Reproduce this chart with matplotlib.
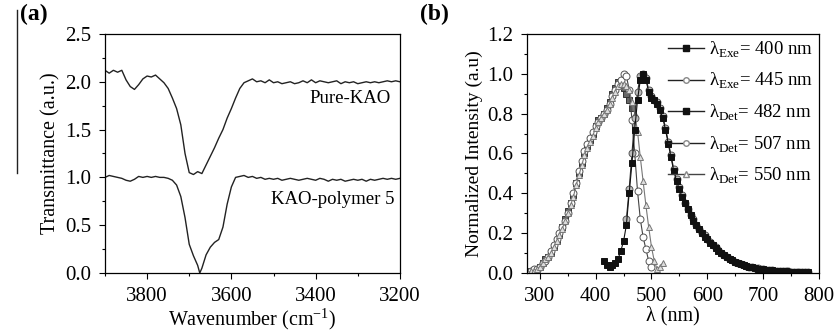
import numpy as np
import matplotlib
matplotlib.use("Agg")
import matplotlib.pyplot as plt
from matplotlib.ticker import MultipleLocator, FormatStrFormatter

plt.rcParams["font.family"] = ["Liberation Serif", "DejaVu Serif"]
plt.rcParams["mathtext.fontset"] = "custom"
plt.rcParams["mathtext.rm"] = "Liberation Serif"

# (a) FTIR spectra
wnPure = [3900, 3890, 3880, 3870, 3860, 3850, 3840, 3830, 3820, 3810,
          3800, 3790, 3780, 3770, 3760, 3750, 3740, 3730, 3720, 3710,
          3700, 3690, 3680, 3670, 3660, 3650, 3640, 3630, 3620, 3610,
          3600, 3590, 3580, 3570, 3560, 3550, 3540, 3530, 3520, 3510,
          3500, 3490, 3480, 3470, 3460, 3450, 3440, 3430, 3420, 3410,
          3400, 3390, 3380, 3370, 3360, 3350, 3340, 3330, 3320, 3310,
          3300, 3290, 3280, 3270, 3260, 3250, 3240, 3230, 3220, 3210, 3200]
tPure = [2.12, 2.09, 2.12, 2.10, 2.12, 2.02, 1.95, 1.92, 1.97, 2.03,
         2.06, 2.05, 2.07, 2.03, 1.99, 1.93, 1.83, 1.72, 1.55, 1.25,
         1.05, 1.03, 1.06, 1.04, 1.13, 1.22, 1.31, 1.41, 1.50, 1.62,
         1.72, 1.83, 1.93, 1.99, 2.01, 2.03, 2.00, 2.01, 1.99, 2.02,
         1.99, 2.00, 1.98, 1.99, 2.00, 1.98, 1.99, 2.01, 1.99, 2.02,
         1.99, 2.01, 2.00, 1.99, 2.00, 2.01, 1.98, 2.00, 1.99, 2.00,
         1.98, 1.99, 2.00, 1.99, 2.00, 1.99, 2.00, 2.01, 2.00, 2.01, 2.00]

wnPoly = [3900, 3890, 3880, 3870, 3860, 3850, 3840, 3830, 3820, 3810,
          3800, 3790, 3780, 3770, 3760, 3750, 3740, 3730, 3720, 3710,
          3700, 3690, 3680, 3675, 3670, 3660, 3650, 3640, 3630, 3620,
          3610, 3600, 3590, 3580, 3570, 3560, 3550, 3540, 3530, 3520,
          3510, 3500, 3490, 3480, 3470, 3460, 3450, 3440, 3430, 3420,
          3410, 3400, 3390, 3380, 3370, 3360, 3350, 3340, 3330, 3320,
          3310, 3300, 3290, 3280, 3270, 3260, 3250, 3240, 3230, 3220,
          3210, 3200]
tPoly = [1.00, 1.02, 1.01, 1.00, 0.99, 0.97, 0.96, 0.98, 1.01, 1.00,
         1.01, 1.00, 1.01, 1.00, 1.00, 0.99, 0.97, 0.92, 0.80, 0.58,
         0.30, 0.18, 0.08, 0.00, 0.05, 0.19, 0.27, 0.32, 0.35, 0.48,
         0.72, 0.90, 1.00, 1.01, 1.02, 1.00, 1.01, 0.99, 1.00, 0.98,
         0.99, 0.98, 0.99, 0.97, 0.98, 0.99, 0.98, 0.97, 0.98, 0.99,
         0.98, 0.97, 0.99, 0.98, 0.96, 0.98, 0.97, 0.98, 0.96, 0.97,
         0.98, 0.97, 0.98, 0.96, 0.98, 0.97, 0.98, 0.99, 0.98, 0.99,
         0.98, 0.99]

# (b) photoluminescence
wlExc = [278, 285, 290, 295, 300, 305, 310, 315, 320, 325, 330, 335, 340,
         345, 350, 355, 360, 365, 370, 375, 380, 385, 390, 395, 400, 405,
         410, 415, 420, 425, 430, 435, 440, 445, 450, 455, 460, 465]
det482 = [0.00, 0.01, 0.01, 0.02, 0.03, 0.05, 0.07, 0.08, 0.10, 0.13, 0.16,
          0.19, 0.23, 0.27, 0.31, 0.35, 0.39, 0.45, 0.50, 0.55, 0.60, 0.64,
          0.67, 0.70, 0.74, 0.77, 0.78, 0.80, 0.83, 0.86, 0.90, 0.93, 0.96,
          0.95, 0.93, 0.90, 0.87, 0.83]

wl507 = [278, 285, 290, 295, 300, 305, 310, 315, 320, 325, 330, 335, 340,
         345, 350, 355, 360, 365, 370, 375, 380, 385, 390, 395, 400, 405,
         410, 415, 420, 425, 430, 435, 440, 445, 450, 455, 460, 465, 470,
         475, 480, 485, 490, 495, 500]
det507 = [0.00, 0.01, 0.02, 0.02, 0.03, 0.05, 0.06, 0.08, 0.11, 0.14, 0.17,
          0.20, 0.23, 0.26, 0.30, 0.35, 0.40, 0.45, 0.51, 0.56, 0.61, 0.65,
          0.68, 0.71, 0.74, 0.76, 0.78, 0.80, 0.82, 0.85, 0.89, 0.92, 0.95,
          0.97, 1.00, 0.99, 0.92, 0.77, 0.60, 0.41, 0.27, 0.18, 0.12, 0.06,
          0.03]

wl550 = [278, 285, 290, 295, 300, 305, 310, 315, 320, 325, 330, 335, 340,
         345, 350, 355, 360, 365, 370, 375, 380, 385, 390, 395, 400, 405,
         410, 415, 420, 425, 430, 435, 440, 445, 450, 455, 460, 465, 470,
         475, 480, 485, 490, 495, 500, 505, 510, 515, 520]
det550 = [0.00, 0.01, 0.01, 0.02, 0.03, 0.05, 0.07, 0.08, 0.10, 0.13, 0.16,
          0.19, 0.22, 0.26, 0.30, 0.34, 0.38, 0.44, 0.49, 0.54, 0.59, 0.63,
          0.66, 0.69, 0.73, 0.76, 0.78, 0.80, 0.82, 0.85, 0.88, 0.91, 0.94,
          0.95, 0.95, 0.94, 0.92, 0.86, 0.80, 0.71, 0.58, 0.46, 0.34, 0.23,
          0.13, 0.06, 0.02, 0.03, 0.05]

wlEm400 = [415, 420, 425, 430, 435, 440, 445, 450, 455, 460, 465, 470, 475,
           480, 485, 490, 495, 500, 505, 510, 515, 520, 525, 530, 535, 540,
           545, 550, 555, 560, 565, 570, 575, 580, 585, 590, 595, 600, 605,
           610, 615, 620, 625, 630, 635, 640, 645, 650, 655, 660, 665, 670,
           675, 680, 685, 690, 695, 700, 705, 710, 715, 720, 725, 730, 735,
           740, 745, 750, 755, 760, 765, 770, 775, 780]
em400 = [0.06, 0.04, 0.03, 0.04, 0.05, 0.07, 0.11, 0.16, 0.24, 0.40, 0.55,
         0.72, 0.87, 0.97, 1.00, 0.97, 0.91, 0.88, 0.87, 0.85, 0.82, 0.78,
         0.72, 0.65, 0.58, 0.51, 0.46, 0.42, 0.38, 0.35, 0.32, 0.29, 0.26,
         0.24, 0.22, 0.20, 0.18, 0.17, 0.15, 0.14, 0.125, 0.11, 0.10, 0.09,
         0.08, 0.07, 0.063, 0.056, 0.05, 0.045, 0.04, 0.036, 0.032, 0.028,
         0.025, 0.022, 0.02, 0.018, 0.016, 0.014, 0.013, 0.012, 0.011, 0.01,
         0.009, 0.008, 0.007, 0.007, 0.006, 0.006, 0.005, 0.005, 0.004,
         0.004]

wlEm445 = [455, 460, 465, 470, 475, 480, 485, 490, 495, 500, 505, 510, 515,
           520, 525, 530, 535, 540, 545, 550, 555, 560, 565, 570, 575, 580,
           585, 590, 595, 600, 605, 610, 615, 620, 625, 630, 635, 640, 645,
           650, 655, 660, 665, 670, 675, 680, 685, 690, 695, 700, 705, 710,
           715, 720, 725, 730, 735, 740, 745, 750, 755, 760, 765, 770, 775,
           780]
em445 = [0.27, 0.42, 0.60, 0.78, 0.91, 0.99, 1.00, 0.98, 0.92, 0.89, 0.87,
         0.86, 0.83, 0.79, 0.73, 0.66, 0.59, 0.52, 0.47, 0.43, 0.39, 0.35,
         0.32, 0.29, 0.27, 0.24, 0.22, 0.20, 0.19, 0.17, 0.155, 0.14, 0.13,
         0.115, 0.10, 0.09, 0.08, 0.072, 0.064, 0.057, 0.05, 0.045, 0.04,
         0.036, 0.032, 0.029, 0.026, 0.023, 0.02, 0.018, 0.016, 0.015, 0.013,
         0.012, 0.011, 0.01, 0.009, 0.008, 0.008, 0.007, 0.006, 0.006, 0.005,
         0.005, 0.004, 0.004]

legendLabels = ["λ$_{\\mathrm{Exe}}$= 400 nm", "λ$_{\\mathrm{Exe}}$= 445 nm",
                "λ$_{\\mathrm{Det}}$= 482 nm", "λ$_{\\mathrm{Det}}$= 507 nm",
                "λ$_{\\mathrm{Det}}$= 550 nm"]


def styleAxis(ax):
    ax.tick_params(which="both", direction="out", top=False, right=False,
                   labelsize=15, pad=6)
    ax.tick_params(which="major", length=4, width=0.8)
    ax.tick_params(which="minor", length=2.5, width=0.8)
    for s in ax.spines.values():
        s.set_linewidth(0.9)


fig = plt.figure(figsize=(8.37, 3.32), dpi=100)

# panel (a)
axA = fig.add_axes([0.1254, 0.1777, 0.3524, 0.72])
axA.plot(wnPure, tPure, color="#222222", lw=1.0)
axA.plot(wnPoly, tPoly, color="#222222", lw=1.0)
axA.set_xlim(3900, 3200)
axA.set_ylim(0, 2.5)
axA.xaxis.set_major_locator(MultipleLocator(200))
axA.xaxis.set_minor_locator(MultipleLocator(100))
axA.yaxis.set_major_locator(MultipleLocator(0.5))
axA.yaxis.set_minor_locator(MultipleLocator(0.25))
axA.yaxis.set_major_formatter(FormatStrFormatter("%.1f"))
styleAxis(axA)
axA.set_ylabel("Transmittance (a.u.)", fontsize=14.5, labelpad=3)
axA.set_xlabel("Wavenumber (cm$^{\\mathrm{-1}}$)", fontsize=14.5, labelpad=0)
axA.text(3222, 1.83, "Pure-KAO", ha="right", va="center", fontsize=13.5)
axA.text(3212, 0.77, "KAO-polymer 5", ha="right", va="center", fontsize=13.5)

# panel (b)
axB = fig.add_axes([0.6296, 0.1777, 0.3489, 0.72])
lineKw = dict(lw=0.8, markersize=5, markeredgewidth=0.7)
h482, = axB.plot(wlExc, det482, "-s", color="#444444", mfc="#666666", mec="#333333", **lineKw)
h507, = axB.plot(wl507, det507, "-o", color="#444444", mfc="white", mec="#555555", **lineKw)
h550, = axB.plot(wl550, det550, "-^", color="#777777", mfc="#dddddd", mec="#777777", **lineKw)
h445, = axB.plot(wlEm445, em445, "-o", color="#333333", mfc="#bbbbbb", mec="#555555", **lineKw)
h400, = axB.plot(wlEm400, em400, "-s", color="#111111", mfc="#111111", mec="#111111", **lineKw)
axB.set_xlim(277, 800)
axB.set_ylim(0, 1.2)
axB.xaxis.set_major_locator(MultipleLocator(100))
axB.xaxis.set_minor_locator(MultipleLocator(50))
axB.yaxis.set_major_locator(MultipleLocator(0.2))
axB.yaxis.set_minor_locator(MultipleLocator(0.1))
axB.yaxis.set_major_formatter(FormatStrFormatter("%.1f"))
styleAxis(axB)
axB.set_ylabel("Normalized Intensity (a.u)", fontsize=14, labelpad=3)
axB.set_xlabel("λ (nm)", fontsize=14.5, labelpad=0)

legHandles = [
    plt.Line2D([], [], color="#222222", lw=1.0, marker="s", ms=4, mfc="#111111", mec="#111111"),
    plt.Line2D([], [], color="#222222", lw=1.0, marker="o", ms=4, mfc="white", mec="#888888"),
    plt.Line2D([], [], color="#222222", lw=1.0, marker="s", ms=4, mfc="#111111", mec="#111111"),
    plt.Line2D([], [], color="#222222", lw=1.0, marker="o", ms=4, mfc="white", mec="#888888"),
    plt.Line2D([], [], color="#444444", lw=1.0, marker="^", ms=4.5, mfc="white", mec="#888888"),
]
axB.legend(legHandles, legendLabels, loc="upper right", frameon=False,
           fontsize=13.5, handlelength=1.9, handletextpad=0.3,
           labelspacing=0.6, borderaxespad=0.0, borderpad=0.3)

fig.text(0.024, 0.955, "(a)", fontsize=17, fontweight="bold", va="center")
fig.text(0.502, 0.955, "(b)", fontsize=17, fontweight="bold", va="center")
fig.add_artist(plt.Line2D([0.02, 0.02], [0.48, 0.97], color="#222222", lw=1.0))

fig.savefig("out.png", dpi=100)
